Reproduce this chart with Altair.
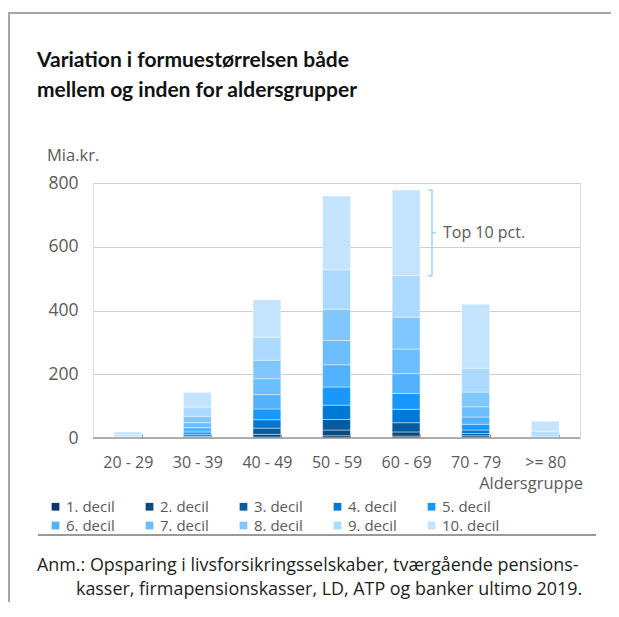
import altair as alt
import pandas as pd

# ---------------- data ----------------
age_groups = ["20 - 29", "30 - 39", "40 - 49", "50 - 59", "60 - 69", "70 - 79", ">= 80"]
deciles = ["1. decil", "2. decil", "3. decil", "4. decil", "5. decil",
           "6. decil", "7. decil", "8. decil", "9. decil", "10. decil"]

d1 = [0.05, 0.5, 3, 7, 6, 2, 0.1]
d2 = [0.05, 1.5, 8.5, 18, 13, 5, 0.2]
d3 = [0.1, 3, 19.5, 33, 29, 7, 0.3]
d4 = [0.2, 5.5, 26.5, 45, 42, 11, 0.5]
d5 = [0.3, 8.5, 33.5, 57, 50, 18, 1]
d6 = [0.6, 13.5, 45, 70, 62, 23, 1.5]
d7 = [1.2, 15.5, 50, 76, 77, 32, 2]
d8 = [2.5, 20, 58, 98, 100, 46, 4]
d9 = [4.5, 29, 72, 124, 130, 75, 10]
d10 = [9.5, 46, 118, 231, 269, 201, 33]
decile_values = [d1, d2, d3, d4, d5, d6, d7, d8, d9, d10]

colors = ["#08386a", "#0a4a80", "#045c9e", "#0079d6", "#1898fd",
          "#52b2fe", "#6cbefe", "#80c7fe", "#abdafe", "#c4e4fd"]

y_ticks = [0, 200, 400, 600, 800]

title_lines = ["Variation i formuestørrelsen både", "mellem og inden for aldersgrupper"]
unit_label = "Mia.kr."
x_title = "Aldersgruppe"
annot_label = "Top 10 pct."
annot_group = "60 - 69"
note_lines = ["Anm.: Opsparing i livsforsikringsselskaber, tværgående pensions-",
              "kasser, firmapensionskasser, LD, ATP og banker ultimo 2019."]

# ---------------- tables ----------------
rows = []
for di, (dname, vals) in enumerate(zip(deciles, decile_values)):
    for gi, g in enumerate(age_groups):
        rows.append({"age": g, "decil": dname, "order": di, "value": vals[gi]})
df = pd.DataFrame(rows)

gi = age_groups.index(annot_group)
bottom9 = sum(v[gi] for v in decile_values[:9])
top10 = bottom9 + decile_values[9][gi]
annot = pd.DataFrame([{"age": annot_group, "lo": bottom9, "hi": top10,
                       "mid": (bottom9 + top10) / 2, "label": annot_label}])

FONT = "Open Sans"
TFONT = "Lato"
GRAY = "#5a5a5a"
W, H = 487, 255
PAD = {"left": 85, "top": 175, "right": 31, "bottom": 164}

xscale = alt.Scale(domain=age_groups, paddingInner=0.6, paddingOuter=0.3)
yscale = alt.Scale(domain=[0, 800], nice=False)

base = alt.Chart(df)

bars = base.mark_bar(stroke="white", strokeWidth=0.6, strokeOpacity=0.7).encode(
    x=alt.X("age:N", scale=xscale, sort=age_groups,
            axis=alt.Axis(title=None, labelAngle=0, labelFont=FONT, labelFontSize=16,
                          labelColor=GRAY, domain=False, ticks=True, tickSize=4,
                          tickColor="#8c8c8c", tickWidth=1, tickBand="extent",
                          offset=-4, labelPadding=16)),
    y=alt.Y("sum(value):Q", scale=yscale, stack="zero",
            axis=alt.Axis(title=None, values=y_ticks, labelFont=FONT, labelFontSize=17.5,
                          labelColor=GRAY, domain=False, ticks=False, labelPadding=15,
                          grid=True, gridColor="#cfcfcf", gridWidth=1)),
    color=alt.Color("decil:N", scale=alt.Scale(domain=deciles, range=colors),
                    legend=alt.Legend(title=None, orient="none", legendX=-45, legendY=316,
                                      direction="horizontal", columns=5, gridAlign="all",
                                      symbolType="square", symbolSize=60, symbolStrokeWidth=0,
                                      labelFont=FONT, labelFontSize=15, labelColor=GRAY,
                                      labelOffset=3, columnPadding=18, rowPadding=3,
                                      labelLimit=200)),
    order=alt.Order("order:Q", sort="ascending"),
)

baseline = alt.Chart(pd.DataFrame({"y": [0]})).mark_rule(color="#9a9a9a", strokeWidth=1.5).encode(
    y=alt.Y("y:Q", scale=yscale)
)

BR = "#9fd3f7"
bx = alt.X("age:N", scale=xscale, bandPosition=1)
bx2 = alt.X2("age:N", bandPosition=1)
bracket_v = alt.Chart(annot).mark_rule(color=BR, strokeWidth=1.5, xOffset=12).encode(
    x=bx, y=alt.Y("lo:Q", scale=yscale), y2="hi:Q")
bracket_t = alt.Chart(annot).mark_rule(color=BR, strokeWidth=1.5, xOffset=8, x2Offset=12.5).encode(
    x=bx, x2=bx2, y=alt.Y("hi:Q", scale=yscale))
bracket_b = alt.Chart(annot).mark_rule(color=BR, strokeWidth=1.5, xOffset=8, x2Offset=12.5).encode(
    x=bx, x2=bx2, y=alt.Y("lo:Q", scale=yscale))
bracket_m = alt.Chart(annot).mark_rule(color=BR, strokeWidth=1.5, xOffset=12, x2Offset=16).encode(
    x=bx, x2=bx2, y=alt.Y("mid:Q", scale=yscale))
annot_text = alt.Chart(annot).mark_text(font=FONT, fontSize=16, color=GRAY, align="left",
                                        baseline="middle", xOffset=23).encode(
    x=bx, y=alt.Y("mid:Q", scale=yscale), text="label:N")

one = pd.DataFrame([{"k": 0}])


def txt(s, x, y, size=14, color=GRAY, weight="normal", align="left", font=FONT):
    return alt.Chart(one).mark_text(font=font, fontSize=size, color=color, fontWeight=weight,
                                    align=align, baseline="alphabetic").encode(
        x=alt.value(x), y=alt.value(y), text=alt.value(s))


OX, OY = 93, 183  # page position of plot origin
texts = [
    txt(title_lines[0], 37 - OX, 67 - OY, size=21, color="#111111", weight="bold", font=TFONT),
    txt(title_lines[1], 37 - OX, 97 - OY, size=21, color="#111111", weight="bold", font=TFONT),
    txt(unit_label, 47 - OX, 161 - OY, size=16.5),
    txt(x_title, 583 - OX, 489 - OY, size=16.5, align="right"),
    txt(note_lines[0], 37 - OX, 571 - OY, size=17.9, color="#1e1e1e"),
    txt(note_lines[1], 76 - OX, 595 - OY, size=17.9, color="#1e1e1e"),
]


def hline(x1, x2, y, color, width):
    return alt.Chart(one).mark_rule(color=color, strokeWidth=width).encode(
        x=alt.value(x1), x2=alt.value(x2), y=alt.value(y))


def vline(x, y1, y2, color, width):
    return alt.Chart(one).mark_rule(color=color, strokeWidth=width).encode(
        x=alt.value(x), y=alt.value(y1), y2=alt.value(y2))


frame = [
    hline(8 - OX, 611 - OX, 13 - OY, "#a6a6a6", 2),
    vline(9 - OX, 13 - OY, 604 - OY, "#a6a6a6", 2),
    hline(38 - OX, 596 - OX, 535 - OY, "#9a9a9a", 2),
]

chart = alt.layer(
    bars, baseline, bracket_v, bracket_t, bracket_b, bracket_m, annot_text, *texts, *frame
).properties(
    width=W, height=H, padding=PAD, autosize=alt.AutoSizeParams(type="none")
).configure_view(stroke=None).configure(background="white")

chart.save("out.html", embed_options={"renderer": "svg", "actions": False})
